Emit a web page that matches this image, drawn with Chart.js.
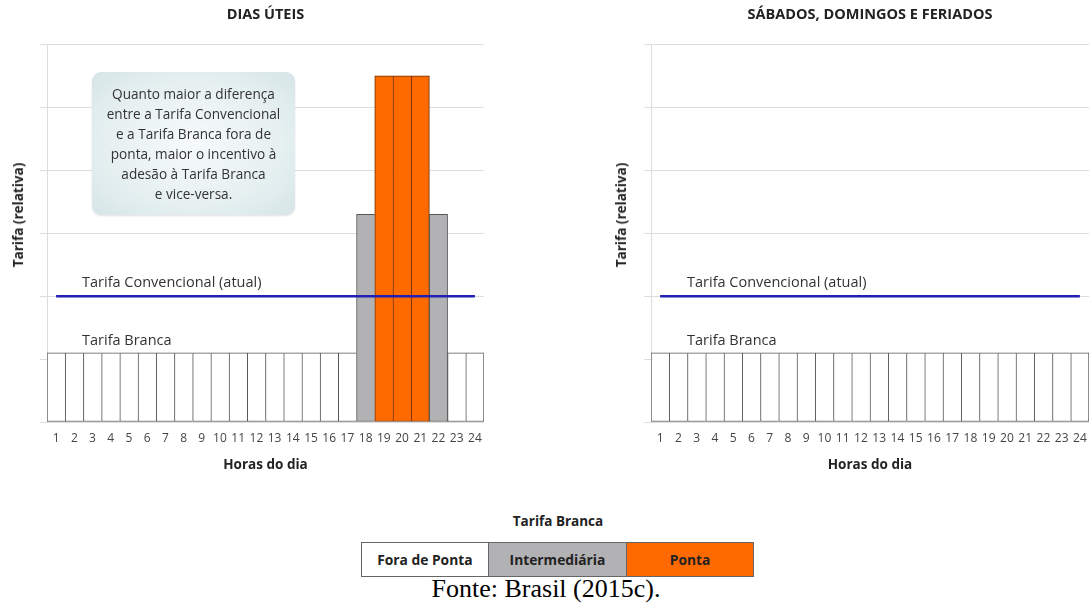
<!DOCTYPE html>
<html lang="pt-BR">
<head>
<meta charset="utf-8">
<title>Tarifa Branca x Tarifa Convencional</title>
<script src="https://cdn.jsdelivr.net/npm/chart.js@4.4.1/dist/chart.umd.min.js"></script>
<style>
  html, body { margin: 0; padding: 0; background: #ffffff; }
  #stage { position: relative; width: 1089px; height: 610px; overflow: hidden; font-family: "Open Sans", sans-serif; color: #333; }
  #stage canvas { position: absolute; top: 0; }
  #chart-uteis { left: 0; }
  #chart-fds { left: 604px; }
  .y-title { position: absolute; font-size: 13.5px; font-weight: bold; color: #222; white-space: nowrap; transform: translate(-50%, -50%) rotate(-90deg); }
  .serie-label { position: absolute; font-size: 14.5px; color: #333; white-space: nowrap; transform: translateY(-50%); }
  .callout {
    position: absolute; left: 92px; top: 72px; width: 203px; height: 143px; box-sizing: border-box;
    border-radius: 9px; box-shadow: 0 1px 2px rgba(0, 0, 0, 0.12);
    background: radial-gradient(ellipse at center, #f6fafa 0%, #e6f0f1 60%, #d6e5e8 100%);
    display: flex; align-items: center; justify-content: center; text-align: center;
    font-size: 13.6px; line-height: 20px; color: #333;
  }
  .legenda-titulo { position: absolute; left: 558px; top: 521px; transform: translate(-50%, -50%); font-size: 13.5px; font-weight: bold; color: #222; white-space: nowrap; }
  .legenda { position: absolute; left: 361px; top: 542px; width: 393px; height: 35px; display: flex; border: 1px solid #666; box-sizing: border-box; }
  .legenda div { display: flex; align-items: center; justify-content: center; font-size: 13.8px; font-weight: bold; color: #222; border-right: 1px solid #666; white-space: nowrap; }
  .legenda div:last-child { border-right: none; }
  .fonte { position: absolute; left: 546px; top: 589px; transform: translate(-50%, -50%); font-family: "Liberation Serif", "Times New Roman", serif; font-size: 26px; color: #000; white-space: nowrap; }
</style>
</head>
<body>
<div id="stage">
  <canvas id="chart-uteis" width="500" height="480"></canvas>
  <canvas id="chart-fds" width="500" height="480"></canvas>

  <div class="y-title" style="left: 18px; top: 215px;">Tarifa (relativa)</div>
  <div class="y-title" style="left: 621px; top: 215px;">Tarifa (relativa)</div>

  <div class="serie-label" style="left: 82px; top: 281px;">Tarifa Convencional (atual)</div>
  <div class="serie-label" style="left: 82px; top: 339px;">Tarifa Branca</div>
  <div class="serie-label" style="left: 687px; top: 281px;">Tarifa Convencional (atual)</div>
  <div class="serie-label" style="left: 687px; top: 339px;">Tarifa Branca</div>

  <div class="callout">Quanto maior a diferença<br>entre a Tarifa Convencional<br>e a Tarifa Branca fora de<br>ponta, maior o incentivo à<br>adesão à Tarifa Branca<br>e vice-versa.</div>

  <div class="legenda-titulo">Tarifa Branca</div>
  <div class="legenda" id="legenda"></div>
  <div class="fonte">Fonte: Brasil (2015c).</div>
</div>

<script>
// Dados (tarifa relativa, 1 unidade = 1 linha de grade)
const horas = ['1', '2', '3', '4', '5', '6', '7', '8', '9', '10', '11', '12',
  '13', '14', '15', '16', '17', '18', '19', '20', '21', '22', '23', '24'];

const tarifaBrancaUteis = [1.1, 1.1, 1.1, 1.1, 1.1, 1.1, 1.1, 1.1, 1.1, 1.1, 1.1, 1.1,
  1.1, 1.1, 1.1, 1.1, 1.1, 3.3, 5.5, 5.5, 5.5, 3.3, 1.1, 1.1];
const postoUteis = ['fora', 'fora', 'fora', 'fora', 'fora', 'fora', 'fora', 'fora', 'fora', 'fora', 'fora', 'fora',
  'fora', 'fora', 'fora', 'fora', 'fora', 'intermediaria', 'ponta', 'ponta', 'ponta', 'intermediaria', 'fora', 'fora'];

const tarifaBrancaFds = [1.1, 1.1, 1.1, 1.1, 1.1, 1.1, 1.1, 1.1, 1.1, 1.1, 1.1, 1.1,
  1.1, 1.1, 1.1, 1.1, 1.1, 1.1, 1.1, 1.1, 1.1, 1.1, 1.1, 1.1];
const postoFds = ['fora', 'fora', 'fora', 'fora', 'fora', 'fora', 'fora', 'fora', 'fora', 'fora', 'fora', 'fora',
  'fora', 'fora', 'fora', 'fora', 'fora', 'fora', 'fora', 'fora', 'fora', 'fora', 'fora', 'fora'];

const tarifaConvencional = [2, 2, 2, 2, 2, 2, 2, 2, 2, 2, 2, 2,
  2, 2, 2, 2, 2, 2, 2, 2, 2, 2, 2, 2];

const postos = ['fora', 'intermediaria', 'ponta'];
const nomesPostos = ['Fora de Ponta', 'Intermediária', 'Ponta'];
const larguraLegenda = [127, 139, 127];

// Estilos
const corPosto = { fora: '#ffffff', intermediaria: '#b2b1b4', ponta: '#ff6a00' };
const bordaPosto = { fora: '#555555', intermediaria: '#555555', ponta: '#6b2c00' };
const fonte = 'Open Sans';

Chart.defaults.font.family = fonte;

// 1. Monta um gráfico (dias úteis ou fim de semana)
function criarGrafico(canvasId, titulo, tarifaBranca, posto, padDireita) {
  const ctx = document.getElementById(canvasId).getContext('2d');
  const alturaCanvas = ctx.canvas.height;

  return new Chart(ctx, {
    data: {
      labels: horas,
      datasets: [
        {
          type: 'line',
          label: 'Tarifa Convencional (atual)',
          data: tarifaConvencional,
          borderColor: '#2020b4',
          borderWidth: 2.5,
          pointRadius: 0,
          order: 0
        },
        {
          type: 'bar',
          label: 'Tarifa Branca',
          data: tarifaBranca,
          backgroundColor: posto.map(p => corPosto[p]),
          borderColor: posto.map(p => bordaPosto[p]),
          // só desenha a borda direita quando a próxima barra é mais baixa (evita linha dupla)
          borderWidth: (c) => {
            const v = c.dataset.data;
            const i = c.dataIndex;
            const direita = i === v.length - 1 || v[i + 1] < v[i];
            return { top: 1, bottom: 1, left: 1, right: direita ? 1 : 0 };
          },
          borderSkipped: false,
          categoryPercentage: 1,
          barPercentage: 1,
          order: 1
        }
      ]
    },
    options: {
      responsive: false,
      animation: false,
      layout: { padding: { left: 0, right: padDireita, top: 0, bottom: 0 } },
      plugins: {
        legend: { display: false },
        tooltip: { enabled: false },
        title: {
          display: true,
          text: titulo,
          fullSize: false,
          color: '#222',
          font: { size: 14.5, weight: 'bold' },
          padding: { top: 6, bottom: 21 }
        }
      },
      scales: {
        x: {
          grid: { display: false, drawTicks: false },
          border: { display: false },
          ticks: { color: '#444', font: { size: 12 }, padding: 9, maxRotation: 0, autoSkip: false },
          title: {
            display: true,
            text: 'Horas do dia',
            color: '#222',
            font: { size: 13.5, weight: 'bold' },
            padding: { top: 0, bottom: 7 }
          },
          afterFit: (s) => { s.height = alturaCanvas - 422; }
        },
        y: {
          min: 0,
          max: 6,
          ticks: { display: false, stepSize: 1 },
          grid: { color: '#dddddd', tickLength: 7 },
          border: { color: '#dddddd' },
          afterFit: (s) => { s.width = 47; }
        }
      }
    }
  });
}

// 2. Legenda dos postos tarifários
function montarLegenda() {
  const el = document.getElementById('legenda');
  postos.forEach((p, i) => {
    const cel = document.createElement('div');
    cel.style.width = larguraLegenda[i] + 'px';
    cel.style.background = corPosto[p];
    cel.textContent = nomesPostos[i];
    el.appendChild(cel);
  });
}

criarGrafico('chart-uteis', 'DIAS ÚTEIS', tarifaBrancaUteis, postoUteis, 16);
// o gráfico da direita é cortado na borda da figura
criarGrafico('chart-fds', 'SÁBADOS, DOMINGOS E FERIADOS', tarifaBrancaFds, postoFds, 15);
montarLegenda();
</script>
</body>
</html>
